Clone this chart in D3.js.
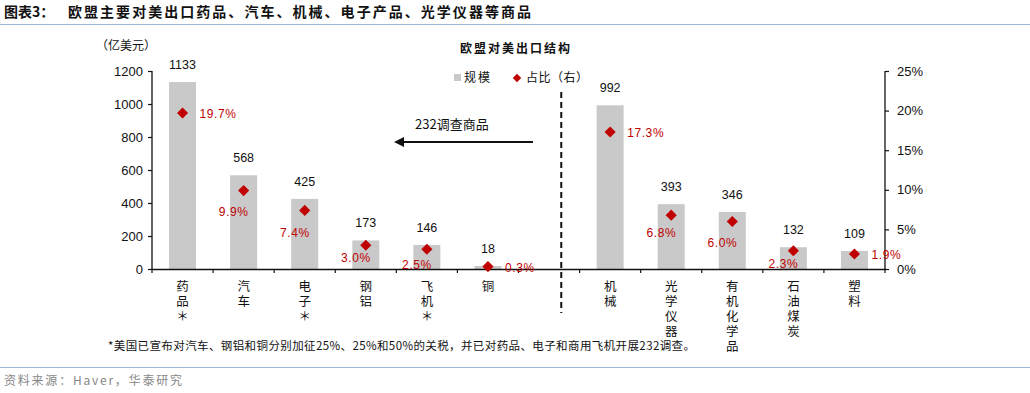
<!DOCTYPE html>
<html><head><meta charset="utf-8">
<script src="https://cdn.jsdelivr.net/npm/d3@7/dist/d3.min.js"></script>
<style>
body{margin:0;background:#fff;}
svg{display:block;font-family:"Liberation Sans","Noto Sans CJK SC",sans-serif;}
.cjk{font-family:"Noto Sans CJK SC",sans-serif;}
.vert{writing-mode:vertical-rl;text-orientation:upright;}
</style></head><body>
<svg id="c" width="1030" height="393"></svg>
<script>
// ---- data ----
const categories = ["药品＊","汽车","电子＊","钢铝","飞机＊","铜",null,"机械","光学仪器","有机化学品","石油煤炭","塑料"];
const scaleValues = [1133,568,425,173,146,18,null,992,393,346,132,109];
const shareValues = [19.7,9.9,7.4,3.0,2.5,0.3,null,17.3,6.8,6.0,2.3,1.9];
const leftTicks = [0,200,400,600,800,1000,1200];
const rightTicks = [0,5,10,15,20,25];
// label placement style: "r" = right of marker, otherwise offset below-left
const sharePlacement = ["r","b","b","b","b","r",null,"r","b","b","b","r"];
const shareLabelDy = [0,25,27,17,20,0,null,0,22,26,17,0];

const svg = d3.select("#c");
const L=152, R=885, T=71, B=269;
const idx = d3.range(categories.length);
const x = d3.scaleBand().domain(idx).range([L,R]).paddingInner(0).paddingOuter(0);
const y = d3.scaleLinear().domain([0,1200]).range([B,T]);
const y2 = d3.scaleLinear().domain([0,25]).range([B,T]);
const bw = 27;
const diamond = d3.symbol(d3.symbolSquare, 62)();

// title
svg.append("text").attr("class","cjk").attr("x",4).attr("y",17).attr("font-size",14).attr("font-weight","bold").attr("fill","#111")
  .text("图表3：");
svg.append("text").attr("class","cjk").attr("x",68).attr("y",17).attr("font-size",14).attr("font-weight","bold").attr("fill","#111")
  .attr("textLength",463).attr("lengthAdjust","spacing")
  .text("欧盟主要对美出口药品、汽车、机械、电子产品、光学仪器等商品");
svg.append("line").attr("x1",0).attr("x2",1030).attr("y1",24.5).attr("y2",24.5).attr("stroke","#9fb6d6").attr("stroke-width",1.2);

// unit
svg.append("text").attr("class","cjk").attr("x",96).attr("y",50).attr("font-size",12).attr("fill","#111").text("（亿美元）");
// chart title
svg.append("text").attr("class","cjk").attr("x",460).attr("y",53).attr("font-size",12).attr("font-weight","bold").attr("fill","#111")
  .attr("textLength",110).attr("lengthAdjust","spacing").text("欧盟对美出口结构");
// legend
svg.append("rect").attr("x",454).attr("y",74).attr("width",7).attr("height",7).attr("fill","#c9c9c9");
svg.append("text").attr("class","cjk").attr("x",464).attr("y",82).attr("font-size",12).attr("fill","#111")
  .attr("textLength",26).attr("lengthAdjust","spacing").text("规模");
svg.append("path").attr("d",d3.symbol(d3.symbolSquare,36)()).attr("transform","translate(517,78) rotate(45)").attr("fill","#c00000");
svg.append("text").attr("class","cjk").attr("x",526).attr("y",82).attr("font-size",12).attr("fill","#111")
  .attr("textLength",62).attr("lengthAdjust","spacing").text("占比（右）");

// bars
const dIdx = idx.filter(i=>scaleValues[i]!=null);
svg.append("g").selectAll("rect").data(dIdx).join("rect")
  .attr("x",i=>x(i)+x.bandwidth()/2-bw/2).attr("width",bw)
  .attr("y",i=>y(scaleValues[i])).attr("height",i=>B-y(scaleValues[i]))
  .attr("fill","#c9c9c9");
svg.append("g").selectAll("text").data(dIdx).join("text")
  .attr("x",i=>x(i)+x.bandwidth()/2).attr("y",i=>y(scaleValues[i])-13)
  .attr("text-anchor","middle").attr("font-size",12.5).attr("fill","#111")
  .text(i=>scaleValues[i]);

// axes
const gl = svg.append("g").attr("transform",`translate(${L},0)`)
  .call(d3.axisLeft(y).tickValues(leftTicks).tickSize(4).tickPadding(5).tickFormat(d3.format("d")));
const gr = svg.append("g").attr("transform",`translate(${R},0)`)
  .call(d3.axisRight(y2).tickValues(rightTicks).tickSize(4).tickPadding(8).tickFormat(d=>d+"%"));
[gl,gr].forEach(g=>{
  g.select(".domain").attr("stroke","#111").attr("stroke-width",1.3).attr("d",`M0,${T}V${B}`);
  g.selectAll(".tick line").attr("stroke","#111").attr("stroke-width",1.2);
  g.selectAll(".tick text").attr("font-size",13).attr("fill","#111").attr("font-family","Liberation Sans");
});
// x axis
const bounds = d3.range(categories.length+1).map(k=>L+k*x.step());
svg.append("line").attr("x1",L).attr("x2",R).attr("y1",B+0.5).attr("y2",B+0.5).attr("stroke","#111").attr("stroke-width",1.3);
svg.append("g").selectAll("line").data(bounds).join("line")
  .attr("x1",d=>d).attr("x2",d=>d).attr("y1",B).attr("y2",B+4).attr("stroke","#111").attr("stroke-width",1.2);
// x labels, vertical writing
svg.append("g").selectAll("text").data(idx.filter(i=>categories[i])).join("text")
  .attr("class","cjk vert")
  .attr("x",i=>x(i)+x.bandwidth()/2).attr("y",280)
  .attr("font-size",12.5).attr("letter-spacing",2.6).attr("fill","#111")
  .text(i=>categories[i]);

// dashed separator
const sepX = x(6)+x.bandwidth()*0.7;
svg.append("line").attr("x1",sepX).attr("x2",sepX).attr("y1",92).attr("y2",313)
  .attr("stroke","#111").attr("stroke-width",2).attr("stroke-dasharray","6,4");

// arrow
svg.append("defs").append("marker").attr("id","ah").attr("viewBox","0 0 10 10").attr("refX",2).attr("refY",5)
  .attr("markerWidth",5).attr("markerHeight",5).attr("orient","auto-start-reverse")
  .append("path").attr("d","M0,0L10,5L0,10z").attr("fill","#111");
svg.append("line").attr("x1",533).attr("x2",402).attr("y1",142).attr("y2",142).attr("stroke","#111").attr("stroke-width",2).attr("marker-end","url(#ah)");
svg.append("text").attr("class","cjk").attr("x",415).attr("y",129).attr("font-size",13).attr("fill","#111").text("232调查商品");

// share diamonds
const sIdx = idx.filter(i=>shareValues[i]!=null);
svg.append("g").selectAll("path").data(sIdx).join("path")
  .attr("d",diamond)
  .attr("transform",i=>`translate(${x(i)+x.bandwidth()/2},${y2(shareValues[i])}) rotate(45)`)
  .attr("fill","#c00000");
svg.append("g").selectAll("text").data(sIdx).join("text")
  .attr("x",i=>{const cx=x(i)+x.bandwidth()/2; return sharePlacement[i]==="r"? cx+17 : cx+5;})
  .attr("y",i=>{const cy=y2(shareValues[i]); return sharePlacement[i]==="r"? cy+5 : cy+shareLabelDy[i];})
  .attr("text-anchor",i=>sharePlacement[i]==="r"?"start":"end")
  .attr("font-size",12).attr("fill","#c00000").attr("letter-spacing",0.6)
  .text(i=>shareValues[i].toFixed(1)+"%");

// footnote
svg.append("text").attr("class","cjk").attr("x",108).attr("y",350).attr("font-size",11.5).attr("fill","#111")
  .attr("textLength",587).attr("lengthAdjust","spacing")
  .text("*美国已宣布对汽车、钢铝和铜分别加征25%、25%和50%的关税，并已对药品、电子和商用飞机开展232调查。");
svg.append("line").attr("x1",0).attr("x2",1030).attr("y1",367.5).attr("y2",367.5).attr("stroke","#9fb6d6").attr("stroke-width",1.2);
svg.append("text").attr("class","cjk").attr("x",4).attr("y",385).attr("font-size",12).attr("fill","#888")
  .attr("textLength",178).attr("lengthAdjust","spacing")
  .text("资料来源：Haver，华泰研究");
</script>
</body></html>
